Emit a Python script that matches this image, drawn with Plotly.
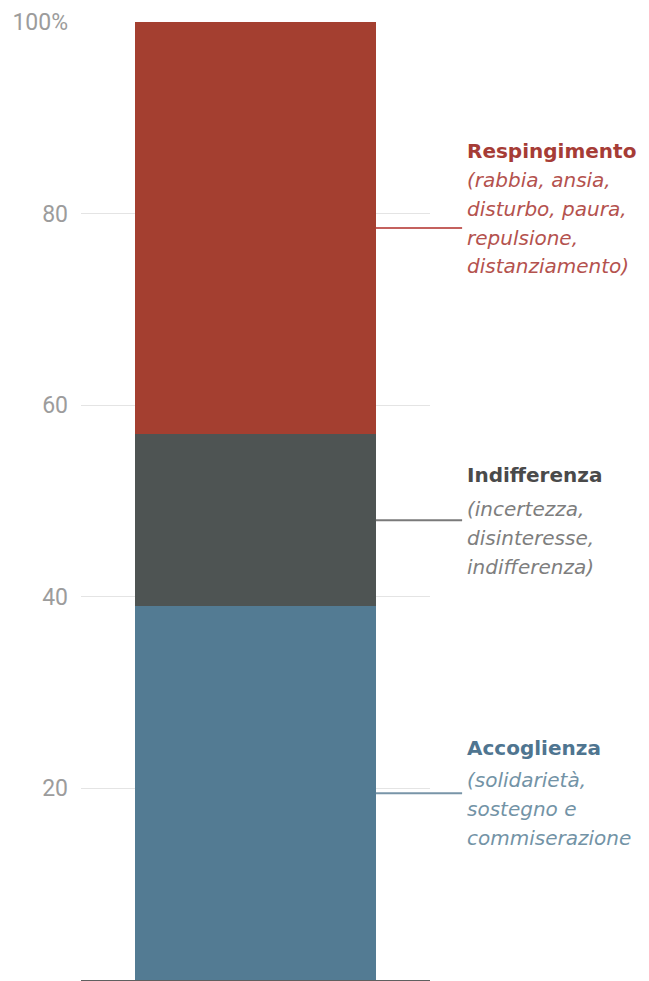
import plotly.graph_objects as go
import numpy as np

# ---- data ----
categories = ["Accoglienza", "Indifferenza", "Respingimento"]
values = [39, 18, 43]
descriptions = [
    ["(solidarietà,", "sostegno e", "commiserazione"],
    ["(incertezza,", "disinteresse,", "indifferenza)"],
    ["(rabbia, ansia,", "disturbo, paura,", "repulsione,", "distanziamento)"],
]
tick_vals = [20, 40, 60, 80, 100]
tick_text = ["20", "40", "60", "80", "100%"]

# ---- styles ----
bar_colors = ["#537B93", "#4E5453", "#A43F30"]
title_colors = ["#4F7590", "#4A4A4A", "#A63C36"]
desc_colors = ["#7393A6", "#7E7E7E", "#B4524E"]
line_colors = ["#7895A8", "#7A7A7A", "#C4615E"]
# baseline offsets (px, downward positive) relative to the leader line
first_desc_offset = [-6, -4, -41]
title_offset = [-38, -38, -70]
line_step = 28.8

bar_width = 0.69
fig = go.Figure()
for cat, val, col in zip(categories, values, bar_colors):
    fig.add_trace(go.Bar(x=[0], y=[val], name=cat, marker=dict(color=col, line=dict(width=0)),
                         width=bar_width, hoverinfo="skip", showlegend=False))

cum = np.cumsum(values)
mids = cum - np.array(values) / 2.0

fs = 20
shapes = []
annotations = []
bar_right_paper = 0.5 + bar_width / 2
for i, cat in enumerate(categories):
    m = mids[i]
    shapes.append(dict(type="line", xref="paper", yref="y", x0=bar_right_paper, x1=1.092,
                       y0=m, y1=m, line=dict(color=line_colors[i], width=2), layer="above"))
    annotations.append(dict(xref="paper", yref="y", x=1, y=m, xanchor="left", yanchor="middle",
                            xshift=35, yshift=-(title_offset[i] - 7), showarrow=False,
                            text="<b>" + cat + "</b>",
                            font=dict(family="DejaVu Sans", size=fs, color=title_colors[i])))
    for k, line in enumerate(descriptions[i]):
        off = first_desc_offset[i] + k * line_step
        annotations.append(dict(xref="paper", yref="y", x=1, y=m, xanchor="left", yanchor="middle",
                                xshift=35, yshift=-(off - 7), showarrow=False,
                                text="<i>" + line + "</i>",
                                font=dict(family="DejaVu Sans", size=fs, color=desc_colors[i])))

fig.update_layout(
    width=649, height=981,
    margin=dict(l=81, r=219, t=22, b=1),
    paper_bgcolor="white", plot_bgcolor="white",
    barmode="stack",
    bargap=0,
    shapes=shapes,
    annotations=annotations,
    xaxis=dict(range=[-0.5, 0.5], showticklabels=False, showgrid=False, zeroline=False,
               showline=True, linecolor="#5F5F5F", linewidth=2, fixedrange=True),
    yaxis=dict(range=[0, 100], tickvals=tick_vals, ticktext=tick_text, showgrid=True,
               gridcolor="#E4E4E4", gridwidth=1, zeroline=False, showline=False,
               ticks="", ticklabelstandoff=12,
               tickfont=dict(family="Roboto", size=23, color="#9C9C9C"),
               fixedrange=True),
)

fig.write_html("out.html")
